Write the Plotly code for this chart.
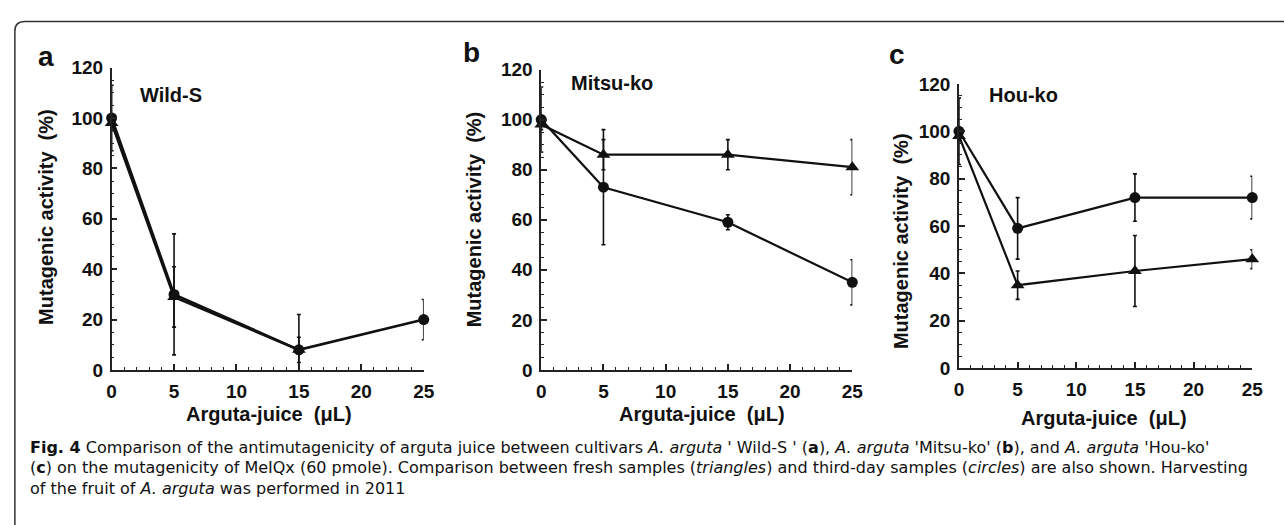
import plotly.graph_objects as go

W, H = 1284, 525

# ---------------- data ----------------
doses = [0, 5, 15, 25]
tick_x = [0, 5, 10, 15, 20, 25]
tick_y = [0, 20, 40, 60, 80, 100, 120]

wild_tri_x = [0, 5, 15]
wild_tri = [98, 29, 8]
wild_tri_err = [3, 12, 5]
wild_circ = [100, 30, 8, 20]
wild_circ_err = [13, 24, 14, 8]

mitsu_tri = [98, 86, 86, 81]
mitsu_tri_err = [2, 6, 6, 11]
mitsu_circ = [100, 73, 59, 35]
mitsu_circ_err = [13, 23, 3, 9]

hou_tri = [98, 35, 41, 46]
hou_tri_err = [2, 6, 15, 4]
hou_circ = [100, 59, 72, 72]
hou_circ_err = [14, 13, 10, 9]

panel_letters = ["a", "b", "c"]
cultivars = ["Wild-S", "Mitsu-ko", "Hou-ko"]
x_title = "Arguta-juice  (μL)"
y_title = "Mutagenic activity  (%)"

# ---------------- helpers ----------------
def px(x):
    return x / W

def py(y):
    return 1 - y / H

BOLD = "Liberation Sans"

fig = go.Figure()

def add_series(xs, ys, errs, symbol, size, axis_n, lw):
    xa = "x" if axis_n == 1 else f"x{axis_n}"
    ya = "y" if axis_n == 1 else f"y{axis_n}"
    fig.add_trace(go.Scatter(
        x=xs, y=ys, xaxis=xa, yaxis=ya, mode="lines+markers",
        line=dict(color="#111111", width=lw),
        marker=dict(symbol=symbol, size=size, color="#111111"),
        error_y=dict(type="data", array=errs, visible=True, color="#111111",
                     thickness=1.6, width=2),
        cliponaxis=False, showlegend=False,
    ))

add_series(wild_tri_x, wild_tri, wild_tri_err, "triangle-up", 12, 1, 2.6)
add_series(doses, wild_circ, wild_circ_err, "circle", 11, 1, 2.6)
add_series(doses, mitsu_tri, mitsu_tri_err, "triangle-up", 12, 2, 2.2)
add_series(doses, mitsu_circ, mitsu_circ_err, "circle", 11, 2, 2.2)
add_series(doses, hou_tri, hou_tri_err, "triangle-up", 12, 3, 2.2)
add_series(doses, hou_circ, hou_circ_err, "circle", 11, 3, 2.2)

# axes pixel boxes: (x0, x1, ytop, ybottom)
boxes = [(108, 424, 60, 375), (543, 858, 62, 375), (966, 1263, 77, 373)]

layout = dict(
    width=W, height=H, margin=dict(l=0, r=0, t=0, b=0),
    paper_bgcolor="white", plot_bgcolor="white", showlegend=False,
)

tickfont = dict(family=BOLD, size=19, color="#111111", weight="bold")
for i, (x0, x1, yt, yb) in enumerate(boxes, start=1):
    sx = "" if i == 1 else str(i)
    layout[f"xaxis{sx}"] = dict(
        domain=[px(x0), px(x1)], range=[0, 25], anchor=f"y{sx}",
        showline=True, linecolor="#222222", linewidth=1.5,
        ticks="inside", ticklen=6, tickwidth=1.5, tickcolor="#222222",
        tickvals=tick_x, showgrid=False, zeroline=False, tickfont=tickfont,
        ticklabelstandoff=3,
        minor=dict(ticks="inside", ticklen=3, tickwidth=1, dtick=1, tickcolor="#222222", showgrid=False),
        fixedrange=True,
    )
    layout[f"yaxis{sx}"] = dict(
        domain=[py(yb), py(yt)], range=[0, 120], anchor=f"x{sx}",
        showline=True, linecolor="#222222", linewidth=1.5,
        ticks="inside", ticklen=6, tickwidth=1.5, tickcolor="#222222",
        tickvals=tick_y, showgrid=False, zeroline=False, tickfont=tickfont,
        ticklabelstandoff=3,
        minor=dict(ticks="inside", ticklen=3, tickwidth=1, dtick=5, tickcolor="#222222", showgrid=False),
        fixedrange=True,
    )

fig.update_layout(**layout)

ann = []
def text(x, y, s, size, angle=0, xanchor="center", family=BOLD, weight="bold"):
    ann.append(dict(x=px(x), y=py(y), xref="paper", yref="paper", text=s,
                    showarrow=False, xanchor=xanchor, yanchor="middle",
                    textangle=angle,
                    font=dict(family=family, size=size, color="#111111", weight=weight)))

# panel letters
for (lx, ly), s in zip([(42, 48), (472, 44), (903, 46)], panel_letters):
    text(lx, ly, s, 28)
# cultivar names
for (lx, ly), s in zip([(168, 89), (615, 76), (1031, 89)], cultivars):
    text(lx, ly, s, 20)
# y titles
for (lx, ly) in [(42, 215), (475, 218), (908, 241)]:
    text(lx, ly, y_title, 20, angle=-90)
# x titles
for (lx, ly) in [(267, 421), (706, 421), (1113, 425)]:
    text(lx, ly, x_title, 20)

cap_font = "DejaVu Sans"
cap_lines = [
    "<b>Fig. 4</b> Comparison of the antimutagenicity of arguta juice between cultivars <i>A. arguta</i> ' Wild-S ' (<b>a</b>), <i>A. arguta</i> 'Mitsu-ko' (<b>b</b>), and <i>A. arguta</i> 'Hou-ko'",
    "(<b>c</b>) on the mutagenicity of MeIQx (60 pmole). Comparison between fresh samples (<i>triangles</i>) and third-day samples (<i>circles</i>) are also shown. Harvesting",
    "of the fruit of <i>A. arguta</i> was performed in 2011",
]
for yy, s in zip([456, 477, 498], cap_lines):
    text(23, yy, s, 16, xanchor="left", family=cap_font, weight="normal")

fig.update_layout(annotations=ann)

# rounded border (extends beyond right & bottom edges)
r = 10
path = (f"M {px(10)},{py(545)} L {px(10)},{py(12 + r)} "
        f"Q {px(10)},{py(12)} {px(10 + r)},{py(12)} L {px(1300)},{py(12)}")
fig.add_shape(type="path", path=path, xref="paper", yref="paper",
              line=dict(color="#333333", width=1.5))

fig.write_html(
    "out.html",
    config={"displayModeBar": False},
    post_script="document.body.style.margin='0';document.body.style.overflow='hidden';",
)
